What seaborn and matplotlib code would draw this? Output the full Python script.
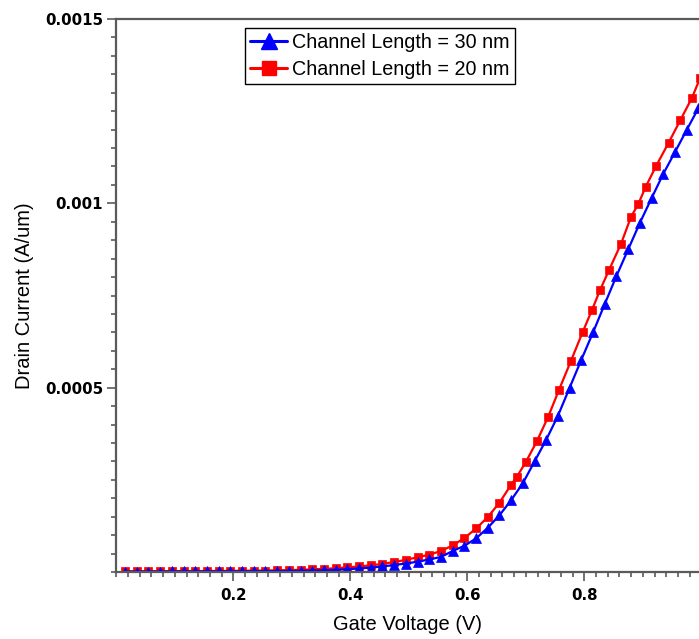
import numpy as np
import pandas as pd
import matplotlib
matplotlib.use("Agg")
import matplotlib.pyplot as plt
from matplotlib.ticker import MultipleLocator, FixedLocator
from matplotlib.lines import Line2D
import seaborn as sns

# ---- data ----
v_30nm = [0.015, 0.035, 0.055, 0.075, 0.095, 0.115, 0.135, 0.155, 0.175, 0.195,
          0.215, 0.235, 0.255, 0.275, 0.295, 0.315, 0.335, 0.355, 0.375, 0.395,
          0.415, 0.435, 0.455, 0.475, 0.495, 0.515, 0.535, 0.555, 0.575, 0.595,
          0.615, 0.635, 0.655, 0.675, 0.695, 0.715, 0.735, 0.755, 0.775, 0.795,
          0.815, 0.835, 0.855, 0.875, 0.895, 0.915, 0.935, 0.955, 0.975, 0.995]
i_30nm = [1.0e-6, 1.1e-6, 1.2e-6, 1.3e-6, 1.4e-6, 1.5e-6, 1.6e-6, 1.7e-6, 1.8e-6, 1.9e-6,
          2.0e-6, 2.2e-6, 2.4e-6, 2.6e-6, 2.9e-6, 3.3e-6, 3.9e-6, 4.8e-6, 6.0e-6, 7.5e-6,
          9.5e-6, 1.2e-5, 1.5e-5, 1.9e-5, 2.3e-5, 2.8e-5, 3.4e-5, 4.1e-5, 5.7e-5, 7.1e-5,
          9.1e-5, 1.2e-4, 1.54e-4, 1.95e-4, 2.41e-4, 3.0e-4, 3.59e-4, 4.24e-4, 5.0e-4, 5.76e-4,
          6.5e-4, 7.27e-4, 8.03e-4, 8.75e-4, 9.47e-4, 1.014e-3, 1.08e-3, 1.139e-3, 1.199e-3, 1.258e-3]

v_20nm = [0.015, 0.035, 0.055, 0.075, 0.095, 0.115, 0.135, 0.155, 0.175, 0.195,
          0.215, 0.235, 0.255, 0.275, 0.295, 0.315, 0.335, 0.355, 0.375, 0.395,
          0.415, 0.435, 0.455, 0.475, 0.495, 0.515, 0.535, 0.555, 0.575, 0.595,
          0.615, 0.635, 0.655, 0.675, 0.685, 0.700, 0.719, 0.738, 0.757, 0.777,
          0.797, 0.813, 0.827, 0.842, 0.863, 0.880, 0.892, 0.905, 0.923, 0.944,
          0.964, 0.984, 0.998]
i_20nm = [2.0e-6, 2.1e-6, 2.2e-6, 2.3e-6, 2.4e-6, 2.5e-6, 2.6e-6, 2.7e-6, 2.9e-6, 3.1e-6,
          3.3e-6, 3.6e-6, 4.0e-6, 4.5e-6, 5.2e-6, 6.0e-6, 7.2e-6, 8.5e-6, 1.0e-5, 1.25e-5,
          1.5e-5, 1.8e-5, 2.2e-5, 2.7e-5, 3.3e-5, 4.0e-5, 4.7e-5, 5.7e-5, 7.2e-5, 9.2e-5,
          1.18e-4, 1.49e-4, 1.88e-4, 2.37e-4, 2.59e-4, 2.98e-4, 3.55e-4, 4.2e-4, 4.95e-4, 5.72e-4,
          6.5e-4, 7.1e-4, 7.65e-4, 8.18e-4, 8.91e-4, 9.64e-4, 9.97e-4, 1.045e-3, 1.102e-3, 1.164e-3,
          1.225e-3, 1.286e-3, 1.34e-3]

label_30 = "Channel Length = 30 nm"
label_20 = "Channel Length = 20 nm"
x_ticks = [0.2, 0.4, 0.6, 0.8]
x_tick_labels = ["0.2", "0.4", "0.6", "0.8"]
y_ticks = [0.0005, 0.001, 0.0015]
y_tick_labels = ["0.0005", "0.001", "0.0015"]

df30 = pd.DataFrame({"v": v_30nm, "i": i_30nm})
df20 = pd.DataFrame({"v": v_20nm, "i": i_20nm})

sns.set_style("white")
plt.rcParams["font.family"] = ["Liberation Sans", "DejaVu Sans"]
plt.rcParams["text.color"] = "black"
plt.rcParams["axes.labelcolor"] = "black"

fig = plt.figure(figsize=(6.99, 6.39), dpi=100)
ax = fig.add_axes([116.3 / 699, 67 / 639, 1 - 116.3 / 699, 553 / 639])

blue = "#0000ff"
red = "#ff0000"

sns.lineplot(data=df20, x="v", y="i", ax=ax, color=red, marker="s", markersize=6.2,
             markeredgecolor=red, markeredgewidth=0.5, linewidth=1.6, sort=False)
sns.lineplot(data=df30, x="v", y="i", ax=ax, color=blue, marker="^", markersize=7,
             markeredgecolor=blue, markeredgewidth=0.5, linewidth=1.6, sort=False)

ax.set_xlim(0, (699 - 116.3) / 585)
ax.set_ylim(0, 0.0015)

spine_col = "#5a5a5a"
for s in ["left", "top", "bottom"]:
    ax.spines[s].set_color(spine_col)
    ax.spines[s].set_linewidth(1.6)
ax.spines["right"].set_visible(False)

ax.xaxis.set_major_locator(FixedLocator(x_ticks))
ax.set_xticklabels(x_tick_labels)
ax.xaxis.set_minor_locator(MultipleLocator(0.02))
ax.yaxis.set_major_locator(FixedLocator(y_ticks))
ax.set_yticklabels(y_tick_labels)
ax.yaxis.set_minor_locator(MultipleLocator(0.00005))

ax.tick_params(axis="both", which="major", direction="out", color=spine_col, width=1.2,
               length=6.5, labelsize=10.8, labelcolor="black")
ax.tick_params(axis="x", which="major", pad=5)
ax.tick_params(axis="y", which="major", pad=3)
ax.tick_params(axis="both", which="minor", direction="out", color=spine_col, width=1.2,
               length=3.8)
ax.tick_params(axis="x", which="both", bottom=True, top=False)
ax.tick_params(axis="y", which="both", left=True, right=False)
for lab in ax.get_xticklabels() + ax.get_yticklabels():
    lab.set_fontweight("bold")
    lab.set_family(["DejaVu Sans"])

ax.set_xlabel("Gate Voltage (V)", fontsize=14.5, labelpad=9, color="black")
ax.set_ylabel("Drain Current (A/um)", fontsize=14.5, labelpad=8, color="black")

handles = [
    Line2D([], [], color=blue, marker="^", markersize=11, markeredgecolor=blue, linewidth=2.2),
    Line2D([], [], color=red, marker="s", markersize=10, markeredgecolor=red, linewidth=2.2),
]
leg = ax.legend(handles, [label_30, label_20], loc="upper left",
                bbox_to_anchor=((245 - 116.3) / 582.7, (572 - 28) / 553),
                borderaxespad=0, fontsize=14.2, frameon=True, fancybox=False,
                edgecolor="black", framealpha=1, handlelength=1.9, handletextpad=0.25,
                labelspacing=0.4, borderpad=0.25)
leg.get_frame().set_linewidth(1.0)
for t in leg.get_texts():
    t.set_color("black")

fig.savefig("out.png", dpi=100)
